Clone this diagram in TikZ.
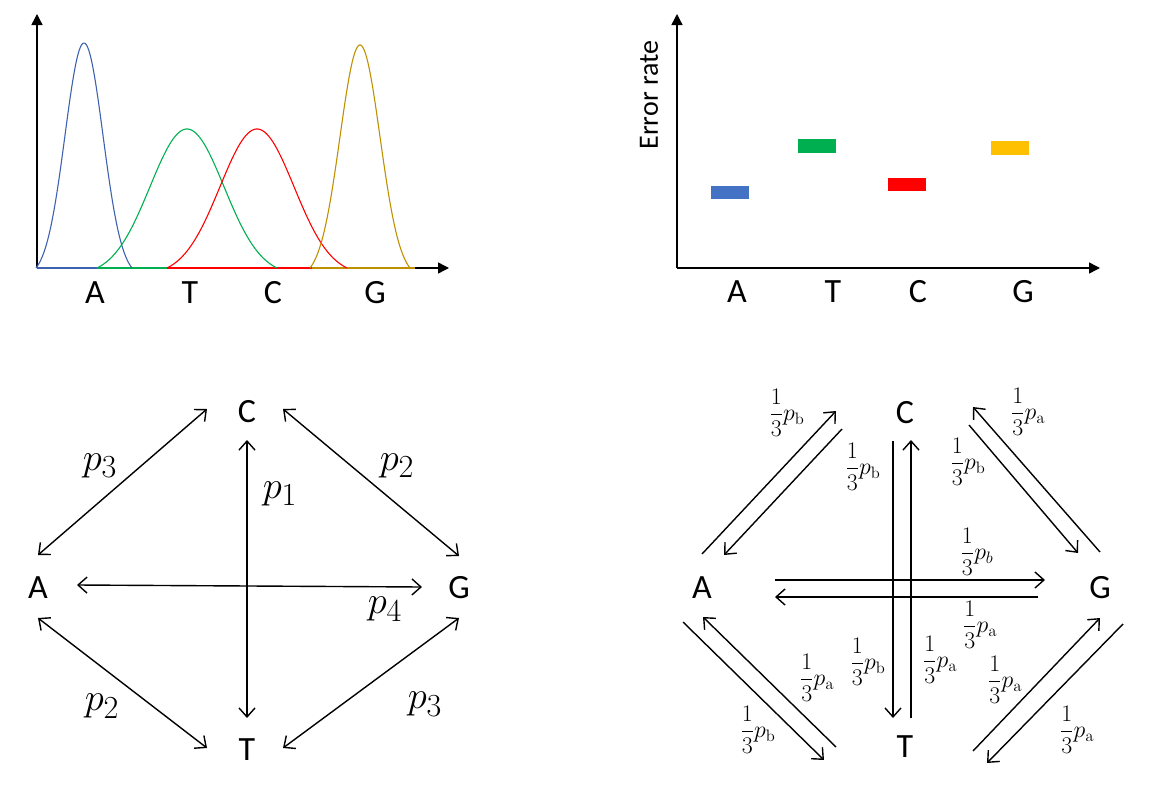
\documentclass[tikz,border=0pt]{standalone}
\usepackage{amsmath}
\usepackage[no-math]{fontspec}
\setmainfont{Carlito}
\usetikzlibrary{arrows.meta,calc}
\definecolor{cblue}{HTML}{3F62B0}
\definecolor{cgreen}{HTML}{00B050}
\definecolor{cred}{HTML}{FF0000}
\definecolor{cgold}{HTML}{BF9000}
\definecolor{bblue}{HTML}{4472C4}
\definecolor{bgold}{HTML}{FFC000}
\newcommand{\tf}[1]{$\dfrac{1}{3}p_{#1}$}
% peak: centre, height, sigma, half-width
\newcommand{\peakplot}[5]{%
  \draw[curve,#5] plot[domain=-#4:#4,samples=90]
    ({#1+\x},{268-#2*(exp(-(\x/#3)^2/2)-exp(-(#4/#3)^2/2))/(1-exp(-(#4/#3)^2/2))});}
\tikzset{
  axis/.style={line width=1.4pt,-{Triangle[length=11pt,width=11pt]}},
  curve/.style={line width=1.1pt},
  base/.style={font=\fontsize{34}{40}\selectfont,inner sep=0pt},
  plab/.style={font=\fontsize{24.88}{28}\selectfont,scale=1.55,inner sep=0pt},
  flab/.style={font=\fontsize{20.74}{24}\selectfont,scale=1.15,inner sep=0pt},
  bidir/.style={line width=1.4pt,{Straight Barb[length=9pt,width=16pt]}-{Straight Barb[length=9pt,width=16pt]}},
  unidir/.style={line width=1.4pt,-{Straight Barb[length=9pt,width=16pt]}},
  bar/.style={inner sep=0pt,minimum width=38pt,minimum height=13.5pt}
}
\begin{document}
\begin{tikzpicture}[x=1pt,y=-1pt]
\useasboundingbox (0,0) rectangle (1175,795);
% ---------- top-left: chromatogram ----------
\coordinate (o1) at (37,268);
\coordinate (y1) at (37,14);
\coordinate (x1) at (449,268);
\draw[axis] (o1) -- (y1);
\draw[axis] (o1) -- (x1);
\draw[curve,cblue] (37,268) -- (135,268);
\draw[curve,cgreen] (97,268) -- (282,268);
\draw[curve,cred] (167,268) -- (348,268);
\draw[curve,cgold] (312,268) -- (415,268);
\peakplot{84}{225}{19}{48}{cblue}
\peakplot{187}{139}{37}{90}{cgreen}
\peakplot{257}{139}{37}{90}{cred}
\peakplot{360}{223}{20}{50}{cgold}
\node[base] (ta) at (95,293) {A};
\node[base] (tt) at (190,293) {T};
\node[base] (tc) at (273,293) {C};
\node[base] (tg) at (375,293) {G};
% ---------- top-right: error rate ----------
\coordinate (o2) at (677,268);
\coordinate (y2) at (677,14);
\coordinate (x2) at (1100,268);
\draw[axis] (o2) -- (y2);
\draw[axis] (o2) -- (x2);
\node[font=\fontsize{28}{32}\selectfont,rotate=90,inner sep=0pt] (err) at (649,95) {Error rate};
\node[bar,fill=bblue] (ba) at (730,192.5) {};
\node[bar,fill=cgreen] (bt) at (817,146) {};
\node[bar,fill=cred] (bc) at (907,184.5) {};
\node[bar,fill=bgold] (bg) at (1010,148) {};
\node[base] (ra) at (737,292) {A};
\node[base] (rt) at (833,292) {T};
\node[base] (rc) at (918,292) {C};
\node[base] (rg) at (1023,292) {G};
% ---------- bottom-left: symmetric model ----------
\node[base] (A) at (38,588) {A};
\node[base] (C) at (247,412) {C};
\node[base] (G) at (459,588) {G};
\node[base] (T) at (247,750) {T};
\draw[bidir] ($(A)+(0,-33)$) -- ($(C)+(-40,-3)$);
\draw[bidir] ($(C)+(36,-3)$) -- ($(G)+(0,-32)$);
\draw[bidir] ($(A)+(0,30)$) -- ($(T)+(-40,-2)$);
\draw[bidir] ($(G)+(0,30)$) -- ($(T)+(36,-2)$);
\draw[bidir] ($(C)+(0,28)$) -- ($(T)+(0,-32)$);
\draw[bidir] ($(A)+(39,-3)$) -- ($(G)+(-37,-1)$);
\node[plab] (l3a) at (100,466) {$p_3$};
\node[plab] (l1) at (280,494) {$p_1$};
\node[plab] (l2a) at (397,466) {$p_2$};
\node[plab] (l4) at (385,609) {$p_4$};
\node[plab] (l2b) at (102,706) {$p_2$};
\node[plab] (l3b) at (425,704) {$p_3$};
% ---------- bottom-right: two-parameter model ----------
\node[base] (A2) at (702,588) {A};
\node[base] (C2) at (905,413) {C};
\node[base] (G2) at (1100,588) {G};
\node[base] (T2) at (905,747) {T};
\draw[unidir] ($(A2)+(0,-34)$) -- ($(C2)+(-69,-2)$);
\draw[unidir] ($(C2)+(-63,16)$) -- ($(A2)+(22,-33)$);
\draw[unidir] ($(G2)+(0,-36)$) -- ($(C2)+(68,-6)$);
\draw[unidir] ($(C2)+(64,12)$) -- ($(G2)+(-22,-35)$);
\draw[unidir] ($(C2)+(-12,28)$) -- ($(T2)+(-12,-29)$);
\draw[unidir] ($(T2)+(6,-29)$) -- ($(C2)+(6,27)$);
\draw[unidir] ($(A2)+(73,-8)$) -- ($(G2)+(-55,-8)$);
\draw[unidir] ($(G2)+(-62,9)$) -- ($(A2)+(73,9)$);
\draw[unidir] ($(A2)+(-19,34)$) -- ($(T2)+(-81,13)$);
\draw[unidir] ($(T2)+(-69,0)$) -- ($(A2)+(1,29)$);
\draw[unidir] ($(T2)+(68,4)$) -- ($(G2)+(0,30)$);
\draw[unidir] ($(G2)+(23,36)$) -- ($(T2)+(82,16)$);
\node[flab] (f1) at (787,413) {\tf{\mathrm{b}}};
\node[flab] (f2) at (863,467) {\tf{\mathrm{b}}};
\node[flab] (f3) at (1028,412) {\tf{\mathrm{a}}};
\node[flab] (f4) at (968,462) {\tf{\mathrm{b}}};
\node[flab] (f5) at (977,552) {\tf{b}};
\node[flab] (f6) at (980,625) {\tf{\mathrm{a}}};
\node[flab] (f7) at (868,662) {\tf{\mathrm{b}}};
\node[flab] (f8) at (940,660) {\tf{\mathrm{a}}};
\node[flab] (f9) at (817,678) {\tf{\mathrm{a}}};
\node[flab] (f10) at (1005,680) {\tf{\mathrm{a}}};
\node[flab] (f11) at (758,730) {\tf{\mathrm{b}}};
\node[flab] (f12) at (1077,730) {\tf{\mathrm{a}}};
\end{tikzpicture}
\end{document}
